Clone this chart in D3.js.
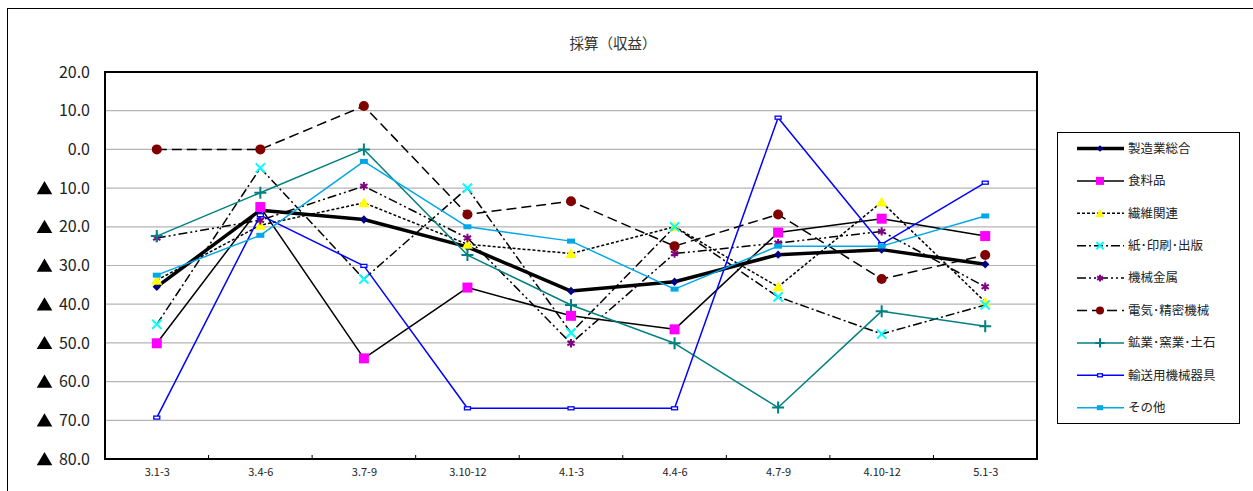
<!DOCTYPE html>
<html><head><meta charset="utf-8">
<script src="https://cdn.jsdelivr.net/npm/d3@7"></script>
<style>
html,body{margin:0;padding:0;background:#fff;}
svg{display:block;}
text{font-family:"Noto Sans CJK JP","Noto Sans",sans-serif;}
</style></head>
<body>
<svg id="chart" width="1253" height="491"></svg>
<script>
const title = "採算（収益）";
const categories = ["3.1-3","3.4-6","3.7-9","3.10-12","4.1-3","4.4-6","4.7-9","4.10-12","5.1-3"];
const yTicks = [20,10,0,-10,-20,-30,-40,-50,-60,-70,-80];
const seriesNames = ["製造業総合","食料品","繊維関連","紙･印刷･出版","機械金属","電気･精密機械","鉱業･窯業･土石","輸送用機械器具","その他"];
const manufacturing = [-35.5,-15.7,-18.1,-25.2,-36.6,-34.2,-27.2,-25.9,-29.7];
const food          = [-50.1,-14.9,-54.0,-35.7,-43.0,-46.5,-21.5,-17.9,-22.4];
const textiles      = [-33.8,-19.6,-13.8,-24.5,-26.9,-20.0,-35.5,-13.6,-39.4];
const paper         = [-45.2,-4.8,-33.5,-10.0,-47.4,-20.0,-38.1,-47.7,-40.2];
const metal         = [-22.9,-18.3,-9.5,-22.9,-50.1,-26.9,-24.2,-21.2,-35.5];
const electric      = [0.0,0.0,11.2,-16.8,-13.4,-25.0,-16.8,-33.5,-27.3];
const mining        = [-22.4,-11.2,0.0,-27.3,-40.2,-50.1,-66.7,-41.8,-45.7];
const transport     = [-69.3,-17.0,-30.1,-66.9,-66.9,-66.9,8.2,-24.5,-8.6];
const others        = [-32.5,-22.2,-3.1,-20.0,-23.7,-36.1,-25.0,-25.0,-17.2];
const seriesValues = [manufacturing,food,textiles,paper,metal,electric,mining,transport,others];

const styles = [
  {stroke:"#000",width:3.5,dash:null,sym:"diamond",fill:"#000080",mstroke:"none",size:9},
  {stroke:"#000",width:1.5,dash:null,sym:"square",fill:"#ff00ff",mstroke:"none",size:10},
  {stroke:"#000",width:1.5,dash:"3,2",sym:"triangle",fill:"#ffff00",mstroke:"none",size:10},
  {stroke:"#000",width:1.5,dash:"9,3,2,3",sym:"times",fill:"none",mstroke:"#00ffff",size:9},
  {stroke:"#000",width:1.5,dash:"9,3,2,3,2,3",sym:"asterisk",fill:"none",mstroke:"#800080",size:9},
  {stroke:"#000",width:1.5,dash:"10,5",sym:"circle",fill:"#800000",mstroke:"none",size:10},
  {stroke:"#008080",width:1.5,dash:null,sym:"plus",fill:"none",mstroke:"#008080",size:9},
  {stroke:"#0000ff",width:1.5,dash:null,sym:"rect",fill:"#ffffff",mstroke:"#0000ff",size:6},
  {stroke:"#00a8e8",width:1.5,dash:null,sym:"rectfill",fill:"#00a8e8",mstroke:"none",size:8}
];

const svg = d3.select("#chart");
svg.append("rect").attr("x",7.5).attr("y",8.5).attr("width",1260).attr("height",500)
  .attr("fill","none").attr("stroke","#000").attr("stroke-width",1);

const plot = {left:105, top:72, right:1037, bottom:459};
const x = d3.scalePoint().domain(categories).range([plot.left,plot.right]).padding(0.5);
const y = d3.scaleLinear().domain([-80,20]).range([plot.bottom,plot.top]);

svg.append("text").attr("x",613).attr("y",49).attr("text-anchor","middle")
  .attr("font-size",14.5).attr("fill","#333").text(title);

svg.append("g").selectAll("line").data(yTicks.filter(d=>d>-80 && d<20)).join("line")
  .attr("x1",plot.left).attr("x2",plot.right)
  .attr("y1",d=>y(d)).attr("y2",d=>y(d))
  .attr("stroke","#b4b4b4").attr("stroke-width",1.2);

const yAxis = d3.axisLeft(y).tickValues(yTicks).tickFormat(d=>d3.format(".1f")(Math.abs(d))).tickSize(0).tickPadding(15);
const gy = svg.append("g").attr("transform",`translate(${plot.left},0)`).call(yAxis);
gy.select(".domain").remove();
gy.selectAll("text").attr("font-size",16).attr("fill","#222")
  .attr("font-family","'Liberation Sans',Arial,sans-serif");
gy.selectAll(".tick").filter(d=>d<0).append("path")
  .attr("d","M-60.5,-7.5L-52.7,5.7L-68.3,5.7Z").attr("fill","#000");

const xAxis = d3.axisBottom(x).tickSize(0).tickPadding(9);
const gx = svg.append("g").attr("transform",`translate(0,${plot.bottom})`).call(xAxis);
gx.select(".domain").remove();
gx.selectAll("text").attr("font-size",11).attr("fill","#222")
  .attr("font-family","'Liberation Sans',Arial,sans-serif");

const step = x.step();
svg.append("g").selectAll("line").data(categories.slice(1)).join("line")
  .attr("x1",d=>x(d)-step/2).attr("x2",d=>x(d)-step/2)
  .attr("y1",plot.bottom).attr("y2",plot.bottom-4)
  .attr("stroke","#000").attr("stroke-width",1);

const line = d3.line().x((d,i)=>x(categories[i])).y(d=>y(d));
function drawMarker(g, st, cx, cy){
  const s = st.size;
  let m;
  switch(st.sym){
    case "diamond": m = g.append("path").attr("d",d3.symbol(d3.symbolDiamond2,s*s*0.55)()); break;
    case "square": m = g.append("rect").attr("x",-s/2).attr("y",-s/2).attr("width",s).attr("height",s); break;
    case "triangle": m = g.append("path").attr("d",`M0,${-s*0.55}L${s*0.55},${s*0.45}L${-s*0.55},${s*0.45}Z`); break;
    case "times": m = g.append("path").attr("d",d3.symbol(d3.symbolTimes,s*s*0.7)()); break;
    case "asterisk": m = g.append("path").attr("d",d3.symbol(d3.symbolAsterisk,s*s*0.6)()); break;
    case "circle": m = g.append("circle").attr("r",s/2); break;
    case "plus": m = g.append("path").attr("d",d3.symbol(d3.symbolPlus,s*s*0.6)()); break;
    case "rect": m = g.append("rect").attr("x",-s/2).attr("y",-1.5).attr("width",s).attr("height",3); break;
    case "rectfill": m = g.append("rect").attr("x",-s/2).attr("y",-2.5).attr("width",s).attr("height",5); break;
  }
  m.attr("transform",`translate(${cx},${cy})`).attr("fill",st.fill)
   .attr("stroke",st.mstroke).attr("stroke-width",st.sym==="rect"?1.3:2);
}

seriesValues.forEach((vals,k)=>{
  const st = styles[k];
  const g = svg.append("g");
  g.append("path").datum(vals).attr("d",line).attr("fill","none")
    .attr("stroke",st.stroke).attr("stroke-width",st.width)
    .attr("stroke-dasharray",st.dash).attr("stroke-linejoin","round");
  vals.forEach((v,i)=>drawMarker(g,st,x(categories[i]),y(v)));
});

svg.append("rect").attr("x",plot.left).attr("y",plot.top)
  .attr("width",plot.right-plot.left).attr("height",plot.bottom-plot.top)
  .attr("fill","none").attr("stroke","#000").attr("stroke-width",2);

const lg = svg.append("g");
lg.append("rect").attr("x",1057.5).attr("y",132.5).attr("width",182).attr("height",291)
  .attr("fill","#fff").attr("stroke","#000").attr("stroke-width",1);
seriesNames.forEach((name,k)=>{
  const st = styles[k];
  const ly = 148.5 + k*32.4;
  lg.append("line").attr("x1",1077).attr("x2",1124).attr("y1",ly).attr("y2",ly)
    .attr("stroke",st.stroke).attr("stroke-width",st.width)
    .attr("stroke-dasharray",st.dash);
  drawMarker(lg,Object.assign({},st,{size:st.size*0.8}),1100,ly);
  lg.append("text").attr("x",1128).attr("y",ly).attr("dy","0.35em")
    .attr("font-size",12.5).attr("fill","#222").text(name);
});
</script>
</body></html>
